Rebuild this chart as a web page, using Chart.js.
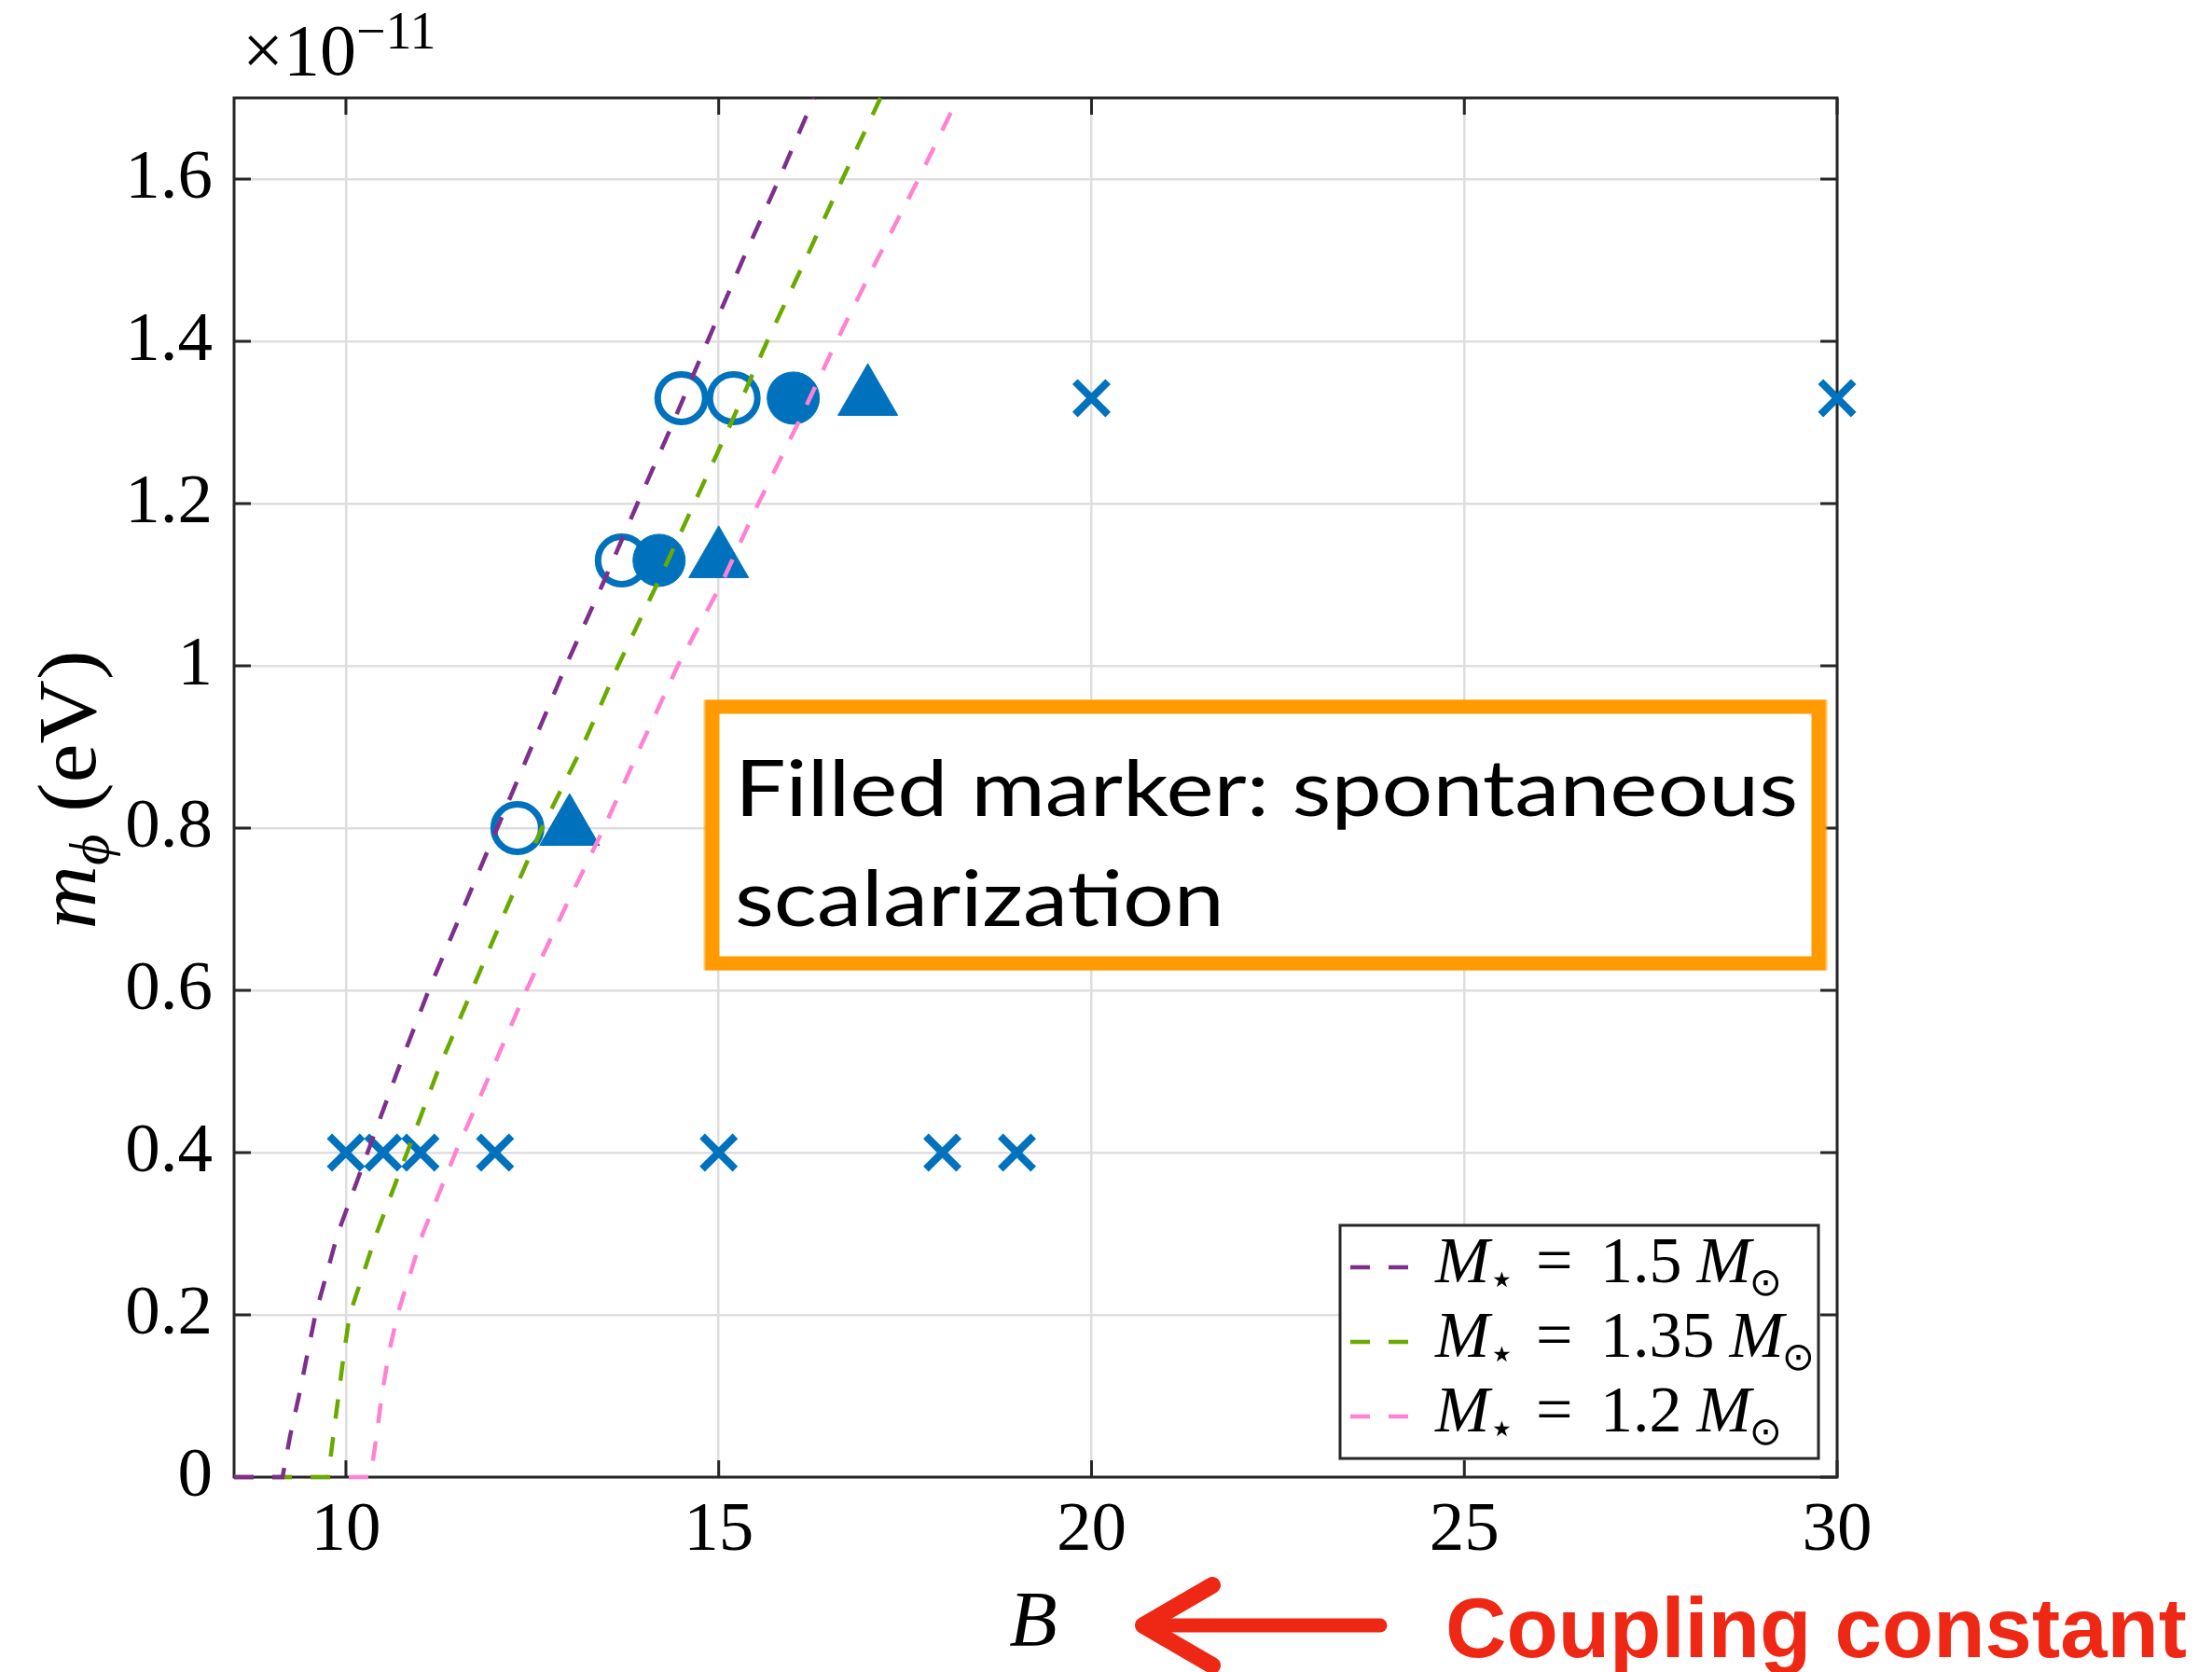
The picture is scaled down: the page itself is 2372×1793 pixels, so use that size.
<!DOCTYPE html>
<html>
<head>
<meta charset="utf-8">
<script src="https://cdn.jsdelivr.net/npm/chart.js@4.4.1/dist/chart.umd.min.js"></script>
<style>
  html, body { margin: 0; padding: 0; background: #fff; }
  #wrap { width: 2372px; height: 1793px; }
</style>
</head>
<body>
<div id="wrap"><canvas id="chart" width="2372" height="1793"></canvas></div>
<script>
// =============================
// DATA
// =============================
// x markers = no scalarization
const crossB = [10, 10.5, 11, 12, 15, 18, 19, 20, 30];
const crossM = [0.4, 0.4, 0.4, 0.4, 0.4, 0.4, 0.4, 1.33, 1.33];
// open circles
const openB = [12.3, 13.7, 14.5, 15.2];
const openM = [0.8, 1.13, 1.33, 1.33];
// filled circles
const filledB = [14.2, 16];
const filledM = [1.13, 1.33];
// filled triangles
const triB = [13, 15, 17];
const triM = [0.8, 1.13, 1.33];

// dashed threshold curves, m_phi (units of 1e-11 eV) vs B
const curveM    = [0, 0, 0.05, 0.1, 0.15, 0.2, 0.3, 0.4, 0.5, 0.6, 0.7, 0.8, 0.9, 1.0, 1.1, 1.2, 1.3, 1.4, 1.5, 1.6, 1.7];
const curveB15  = [8.5, 9.15, 9.25, 9.37, 9.48, 9.59, 9.89, 10.29, 10.69, 11.11, 11.57, 12.03, 12.49, 12.95, 13.44, 13.91, 14.39, 14.85, 15.32, 15.81, 16.28];
const curveB135 = [8.5, 9.76, 9.83, 9.9, 9.97, 10.05, 10.41, 10.82, 11.23, 11.69, 12.15, 12.63, 13.17, 13.65, 14.17, 14.67, 15.17, 15.65, 16.16, 16.66, 17.17];
const curveB12  = [8.5, 10.33, 10.41, 10.48, 10.57, 10.69, 11.03, 11.47, 11.95, 12.42, 12.93, 13.46, 13.95, 14.45, 15.03, 15.53, 16.07, 16.58, 17.12, 17.68, 18.21];
const massLabels = ['1.5', '1.35', '1.2'];

const xTicks = [10, 15, 20, 25, 30];
const xTickLabels = ['10', '15', '20', '25', '30'];
const yTicks = [0, 0.2, 0.4, 0.6, 0.8, 1.0, 1.2, 1.4, 1.6];
const yTickLabels = ['0', '0.2', '0.4', '0.6', '0.8', '1', '1.2', '1.4', '1.6'];

// =============================
// STYLE
// =============================
const BLUE = '#0072BD';
const curveColors = ['#7E2F8E', '#6AAA00', '#FF82D2'];
const AXIS = '#262626';
const SERIF = '"Liberation Serif", "DejaVu Serif", serif';

const pts = (xs, ys) => xs.map((x, i) => ({ x, y: ys[i] }));

function drawRuns(ctx, runs, x, y) {
  let cx = x;
  runs.forEach(([t, f, dy]) => {
    ctx.font = f;
    ctx.fillText(t, cx, y + (dy || 0));
    cx += ctx.measureText(t).width;
  });
  return cx - x;
}
function runsWidth(ctx, runs) {
  let w = 0;
  runs.forEach(([t, f]) => { ctx.font = f; w += ctx.measureText(t).width; });
  return w;
}

// =============================
// PLUGIN: box, ticks, legend, notes
// =============================
const decor = {
  id: 'decor',
  beforeDraw(chart) {
    const ctx = chart.ctx;
    ctx.save();
    ctx.fillStyle = '#fff';
    ctx.fillRect(0, 0, chart.width, chart.height);
    ctx.restore();
  },
  beforeDatasetsDraw(chart) {
    const { ctx, chartArea: a, scales } = chart;
    ctx.save();
    ctx.strokeStyle = AXIS;
    ctx.lineWidth = 3;
    ctx.strokeRect(a.left, a.top, a.right - a.left, a.bottom - a.top);
    const tl = 18;
    ctx.beginPath();
    xTicks.forEach(v => {
      const px = scales.x.getPixelForValue(v);
      ctx.moveTo(px, a.bottom); ctx.lineTo(px, a.bottom - tl);
      ctx.moveTo(px, a.top); ctx.lineTo(px, a.top + tl);
    });
    yTicks.forEach(v => {
      const py = scales.y.getPixelForValue(v);
      ctx.moveTo(a.left, py); ctx.lineTo(a.left + tl, py);
      ctx.moveTo(a.right, py); ctx.lineTo(a.right - tl, py);
    });
    ctx.stroke();
    ctx.restore();
  },
  afterDatasetsDraw(chart) {
    const ctx = chart.ctx;
    ctx.save();

    // legend box (bottom right, inside axes)
    const lx = 1437, ly = 1314, lw = 513, lh = 250;
    ctx.fillStyle = '#fff';
    ctx.fillRect(lx, ly, lw, lh);
    ctx.strokeStyle = AXIS;
    ctx.lineWidth = 3;
    ctx.strokeRect(lx, ly, lw, lh);
    const rowY = [1359, 1439, 1519];
    const f = '70px ' + SERIF, fi = 'italic 70px ' + SERIF;
    massLabels.forEach((m, i) => {
      const ds = chart.data.datasets[i];
      ctx.strokeStyle = ds.borderColor;
      ctx.lineWidth = 4.5;
      ctx.setLineDash(ds.borderDash);
      ctx.beginPath();
      ctx.moveTo(1448, rowY[i]);
      ctx.lineTo(1512, rowY[i]);
      ctx.stroke();
      ctx.setLineDash([]);
      ctx.fillStyle = '#000';
      ctx.textBaseline = 'alphabetic';
      ctx.textAlign = 'left';
      const base = rowY[i] + 16;
      ctx.font = fi;
      ctx.fillText('M', 1539, base);
      ctx.font = '46px "DejaVu Sans"';
      ctx.fillText('\u22C6', 1596, base + 12);
      ctx.font = f;
      ctx.fillText('=', 1647, base);
      ctx.fillText(m, 1716, base);
      const mx = 1716 + ctx.measureText(m).width + 16;
      ctx.font = fi;
      ctx.fillText('M', mx, base);
      const ox = mx + ctx.measureText('M').width - 2;
      ctx.font = '42px "DejaVu Sans"';
      ctx.fillText('\u2299', ox, base + 14);
    });

    // orange note box
    ctx.fillStyle = '#fff';
    ctx.fillRect(764, 758, 1186, 275);
    ctx.strokeStyle = '#FF9A00';
    ctx.lineWidth = 15;
    ctx.lineJoin = 'miter';
    ctx.strokeRect(764, 758, 1186, 275);
    ctx.lineWidth = 3;
    ctx.strokeStyle = 'rgba(255,154,0,0.6)';
    ctx.strokeRect(756, 752, 1202, 287);

    ctx.fillStyle = '#000';
    ctx.font = '84px Lato, "Open Sans", sans-serif';
    const line1 = 'Filled marker: spontaneous';
    const line2 = 'scalarization';
    const sx = 1140 / ctx.measureText(line1).width;
    ctx.save();
    ctx.translate(788, 0);
    ctx.scale(sx, 1);
    ctx.textAlign = 'left';
    ctx.textBaseline = 'alphabetic';
    ctx.fillText(line1, 0, 875);
    ctx.fillText(line2, 0, 993);
    ctx.restore();

    ctx.restore();
  },
  afterDraw(chart) {
    const ctx = chart.ctx;
    ctx.save();
    ctx.fillStyle = '#000';
    ctx.textAlign = 'left';
    ctx.textBaseline = 'alphabetic';

    // exponent above the y axis
    drawRuns(ctx, [
      ['\u00D7', '78px ' + SERIF],
      ['10', '78px ' + SERIF, 0],
      ['\u221211', '56px ' + SERIF, -28]
    ], 260, 80);

    // y axis title, rotated
    const yRuns = [
      ['m', 'italic 88px ' + SERIF],
      ['\u03D5', 'italic 60px ' + SERIF, 14],
      [' (eV)', '88px ' + SERIF]
    ];
    ctx.save();
    ctx.translate(102, 847);
    ctx.rotate(-Math.PI / 2);
    const yw = runsWidth(ctx, yRuns);
    const ys = 299 / yw;
    ctx.scale(ys, 1);
    drawRuns(ctx, yRuns, -yw / 2, 0);
    ctx.restore();

    // x axis title
    ctx.font = 'italic 84px ' + SERIF;
    ctx.textAlign = 'center';
    ctx.fillText('B', 1108, 1765);

    // red arrow + note
    const red = '#EE2814';
    ctx.strokeStyle = red;
    ctx.lineCap = 'round';
    ctx.lineJoin = 'round';
    ctx.lineWidth = 15;
    ctx.beginPath();
    ctx.moveTo(1480, 1743);
    ctx.lineTo(1232, 1743);
    ctx.stroke();
    ctx.lineWidth = 18;
    ctx.beginPath();
    ctx.moveTo(1300, 1700);
    ctx.lineTo(1226, 1743);
    ctx.lineTo(1300, 1786);
    ctx.stroke();

    ctx.fillStyle = red;
    ctx.font = 'bold 91px "Liberation Sans", Arial, sans-serif';
    ctx.textAlign = 'left';
    const note = 'Coupling constant';
    const nsx = 795 / ctx.measureText(note).width;
    ctx.save();
    ctx.translate(1550, 1777);
    ctx.scale(nsx, 1);
    ctx.fillText(note, 0, 0);
    ctx.restore();

    ctx.restore();
  }
};

// =============================
// CHART
// =============================
const curveSets = [curveB15, curveB135, curveB12].map((bs, i) => ({
  label: 'M = ' + massLabels[i] + ' Msun',
  data: pts(bs, curveM),
  showLine: true,
  borderColor: curveColors[i],
  borderWidth: 4.5,
  borderDash: [21, 20],
  pointRadius: 0,
  pointHoverRadius: 0,
  fill: false,
  tension: 0,
  clip: false,
  order: 0
}));

const markerSets = [
  {
    label: 'no scalarization',
    data: pts(crossB, crossM),
    pointStyle: 'crossRot',
    pointRadius: 25,
    pointHoverRadius: 25,
    pointBorderWidth: 8,
    pointBorderColor: BLUE,
    pointBackgroundColor: BLUE,
    clip: false,
    order: 1
  },
  {
    label: 'open',
    data: pts(openB, openM),
    pointStyle: 'circle',
    pointRadius: 25.5,
    pointHoverRadius: 25.5,
    pointBorderWidth: 7,
    pointBorderColor: BLUE,
    pointBackgroundColor: 'rgba(0,0,0,0)',
    clip: false,
    order: 1
  },
  {
    label: 'filled',
    data: pts(filledB, filledM),
    pointStyle: 'circle',
    pointRadius: 28,
    pointHoverRadius: 28,
    pointBorderWidth: 1,
    pointBorderColor: BLUE,
    pointBackgroundColor: BLUE,
    clip: false,
    order: 1
  },
  {
    label: 'triangle',
    data: pts(triB, triM),
    pointStyle: 'triangle',
    pointRadius: 37,
    pointHoverRadius: 37,
    pointBorderWidth: 1,
    pointBorderColor: BLUE,
    pointBackgroundColor: BLUE,
    clip: false,
    order: 1
  }
];

const tickFont = { family: SERIF, size: 75 };

new Chart(document.getElementById('chart'), {
  type: 'scatter',
  data: { datasets: [...curveSets, ...markerSets] },
  options: {
    responsive: false,
    animation: false,
    devicePixelRatio: 1,
    events: [],
    layout: { padding: { top: 105, right: 402, left: 0, bottom: 0 } },
    plugins: { legend: { display: false }, tooltip: { enabled: false } },
    scales: {
      x: {
        type: 'linear',
        min: 8.5,
        max: 30,
        afterBuildTicks: s => { s.ticks = xTicks.map(v => ({ value: v })); },
        afterFit: s => { s.height = 209; },
        grid: { color: '#DEDEDE', lineWidth: 2.5, drawTicks: false },
        border: { display: false },
        ticks: {
          padding: 13,
          color: '#000',
          font: tickFont,
          maxRotation: 0,
          autoSkip: false,
          callback: (v, i) => xTickLabels[i]
        }
      },
      y: {
        type: 'linear',
        min: 0,
        max: 1.7,
        afterBuildTicks: s => { s.ticks = yTicks.map(v => ({ value: v })); },
        afterFit: s => { s.width = 251; },
        grid: { color: '#DEDEDE', lineWidth: 2.5, drawTicks: false },
        border: { display: false },
        ticks: {
          padding: 23,
          color: '#000',
          font: tickFont,
          autoSkip: false,
          callback: (v, i) => yTickLabels[i]
        }
      }
    }
  },
  plugins: [decor]
});
</script>
</body>
</html>
